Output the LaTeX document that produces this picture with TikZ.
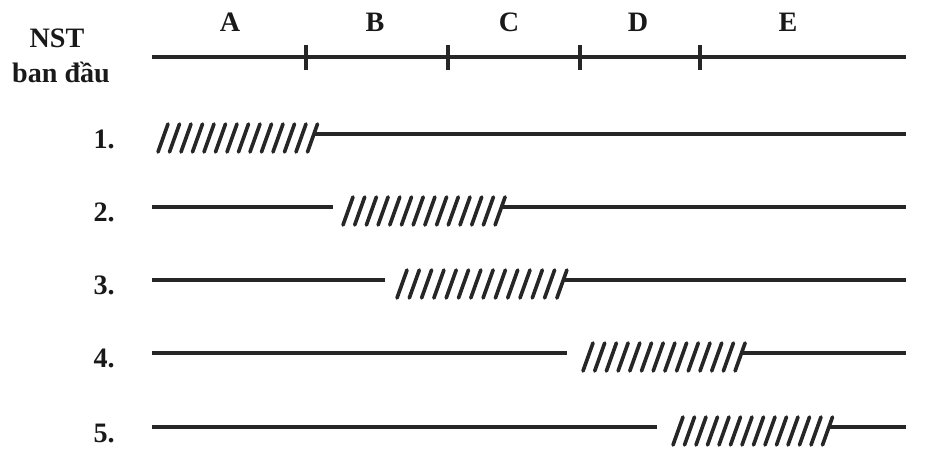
\documentclass[tikz,border=0pt]{standalone}
\usepackage{fontspec}
\setmainfont{Liberation Serif}
\usetikzlibrary{positioning}

\begin{document}
\begin{tikzpicture}[x=0.025cm, y=-0.025cm,
    chrom/.style={line width=2.2pt, draw=black!85},
    hatchline/.style={line width=2.6pt, draw=black!85, line cap=round},
    boundary/.style={line width=2.6pt, draw=black!85},
    seglabel/.style={font=\bfseries\fontsize{20}{24}\selectfont, text=black!90, inner sep=0pt, anchor=base},
    rowlabel/.style={font=\bfseries\fontsize{20}{24}\selectfont, text=black!90, inner sep=0pt, anchor=base east},
]
\useasboundingbox (0,0) rectangle (952,457);

%Labels
\node[seglabel] (nst) at (57,48) {NST};
\node[seglabel] (bandau) at (61,83) {ban đầu};
\node[seglabel] (segA) at (230,32) {A};
\node[seglabel] (segB) at (375,32) {B};
\node[seglabel] (segC) at (509,32) {C};
\node[seglabel] (segD) at (638,32) {D};
\node[seglabel] (segE) at (788,32) {E};

\node[rowlabel] (row1) at (115,149) {1.};
\node[rowlabel] (row2) at (115,222) {2.};
\node[rowlabel] (row3) at (115,295) {3.};
\node[rowlabel] (row4) at (115,368) {4.};
\node[rowlabel] (row5) at (115,442) {5.};

%Original chromosome
\coordinate (top0) at (152,57);
\coordinate (top1) at (906,57);
\draw[chrom] (top0) -- (top1);
\foreach \x in {306,448,580,700}
  \draw[boundary] (\x,45) -- (\x,70);

%Row 1
\coordinate (r1s) at (314,134);
\coordinate (r1e) at (906,134);
\foreach \i in {0,...,13}
  \draw[hatchline] ({158+\i*11.5},152) -- ++(10,-28);
\draw[chrom] (r1s) -- (r1e);

%Row 2
\coordinate (r2a) at (152,207);
\coordinate (r2b) at (333,207);
\coordinate (r2s) at (501,207);
\coordinate (r2e) at (906,207);
\draw[chrom] (r2a) -- (r2b);
\foreach \i in {0,...,13}
  \draw[hatchline] ({343+\i*11.7},225) -- ++(10,-28);
\draw[chrom] (r2s) -- (r2e);

%Row 3
\coordinate (r3a) at (152,280);
\coordinate (r3b) at (385,280);
\coordinate (r3s) at (563,280);
\coordinate (r3e) at (906,280);
\draw[chrom] (r3a) -- (r3b);
\foreach \i in {0,...,13}
  \draw[hatchline] ({397+\i*12.3},298) -- ++(10,-28);
\draw[chrom] (r3s) -- (r3e);

%Row 4
\coordinate (r4a) at (152,353);
\coordinate (r4b) at (567,353);
\coordinate (r4s) at (741,353);
\coordinate (r4e) at (906,353);
\draw[chrom] (r4a) -- (r4b);
\foreach \i in {0,...,13}
  \draw[hatchline] ({583+\i*11.7},371) -- ++(10,-28);
\draw[chrom] (r4s) -- (r4e);

%Row 5
\coordinate (r5a) at (152,427);
\coordinate (r5b) at (657,427);
\coordinate (r5s) at (829,427);
\coordinate (r5e) at (906,427);
\draw[chrom] (r5a) -- (r5b);
\foreach \i in {0,...,13}
  \draw[hatchline] ({673+\i*11.5},445) -- ++(10,-28);
\draw[chrom] (r5s) -- (r5e);

\end{tikzpicture}
\end{document}
